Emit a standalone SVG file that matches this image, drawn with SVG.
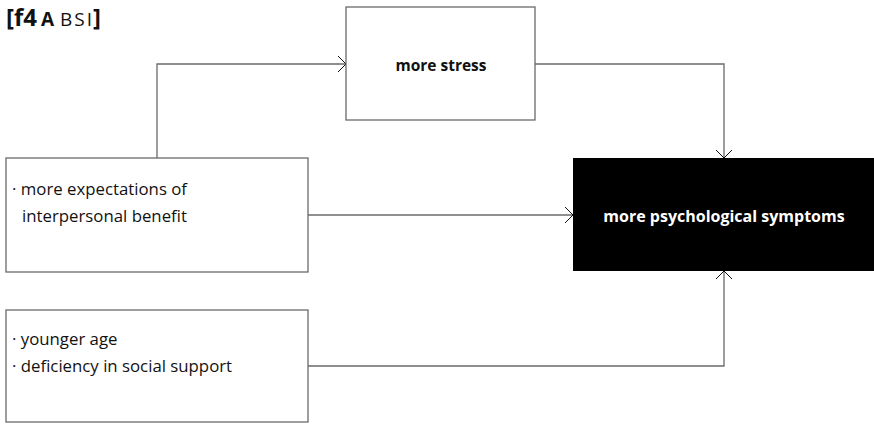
<svg xmlns="http://www.w3.org/2000/svg" width="874" height="424" viewBox="0 0 874 424">
  <style>
    .box { fill: #ffffff; stroke: #6a6a6a; stroke-width: 1.3; }
    .sink { fill: #000000; stroke: none; }
    .lbl { font-family: "Open Sans", "Noto Sans", "Liberation Sans", sans-serif; font-size: 16.8px; fill: #111111; }
    .bold { font-weight: bold; font-size: 16px; }
    .inv { fill: #ffffff; }
    .wire { fill: none; stroke: #6a6a6a; stroke-width: 1.3; }
    .title { font-family: "Open Sans", "Noto Sans", "Liberation Sans", sans-serif; fill: #111111; }
  </style>
  <defs>
    <marker id="chev" markerUnits="userSpaceOnUse" markerWidth="20" markerHeight="20" refX="0" refY="0" viewBox="-10 -10 20 20" orient="auto" overflow="visible">
      <path d="M-8,-8 L0,0 L-8,8" fill="none" stroke="#111111" stroke-width="1"/>
    </marker>
  </defs>

  <!-- figure tag -->
  <text class="title" x="6" y="26"><tspan font-size="24" font-weight="bold">[f4</tspan><tspan font-size="19" font-weight="bold" dx="4">A</tspan><tspan font-size="19" dx="6" letter-spacing="2">BSI</tspan><tspan font-size="24" font-weight="bold" dx="-1">]</tspan></text>

  <!-- connectors -->
  <g id="connectors">
    <path class="wire" d="M157,158 V64 H346" marker-end="url(#chev)"/>
    <path class="wire" d="M308,215 H573" marker-end="url(#chev)"/>
    <path class="wire" d="M535,64 H724 V158" marker-end="url(#chev)"/>
    <path class="wire" d="M308,366 H724 V271" marker-end="url(#chev)"/>
  </g>

  <g id="stress">
    <rect class="box" x="346" y="7" width="189" height="113"/>
    <text class="lbl bold" x="441" y="71" text-anchor="middle" style="font-size:15.5px">more stress</text>
  </g>

  <g id="expectations">
    <rect class="box" x="6" y="158" width="302" height="114"/>
    <text class="lbl" x="12" y="195">· more expectations of</text>
    <text class="lbl" x="22" y="222">interpersonal benefit</text>
  </g>

  <g id="age-support">
    <rect class="box" x="6" y="310" width="302" height="112"/>
    <text class="lbl" x="12" y="345">· younger age</text>
    <text class="lbl" x="12" y="372">· deficiency in social support</text>
  </g>

  <g id="symptoms">
    <rect class="sink" x="573" y="158" width="301" height="113"/>
    <text class="lbl bold inv" x="724" y="222" text-anchor="middle">more psychological symptoms</text>
  </g>
</svg>
